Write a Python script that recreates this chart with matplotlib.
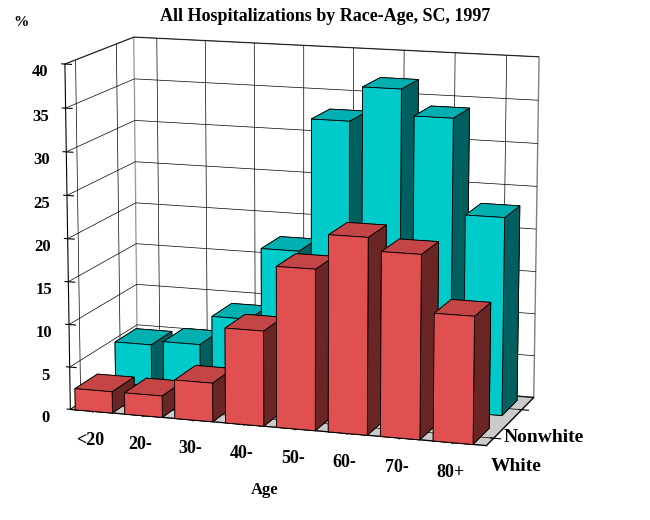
import numpy as np
import matplotlib
matplotlib.use('Agg')
import matplotlib.pyplot as plt
from mpl_toolkits.mplot3d import Axes3D  # noqa

ages = ['<20', '20-', '30-', '40-', '50-', '60-', '70-', '80+']
races = ['White', 'Nonwhite']
white = [2.5, 2.5, 4.5, 11, 18.5, 22.5, 21, 14.5]
nonwhite = [5, 5.5, 9, 17.5, 33, 37, 34, 23]

plt.rcParams['font.family'] = ['Liberation Serif', 'DejaVu Serif']
plt.rcParams['font.weight'] = 'bold'

fig = plt.figure(figsize=(6.5, 5.2), dpi=100)
ax = fig.add_axes([-0.17, -0.03, 1.25, 1.13], projection='3d')
ax.set_box_aspect((1.6, 0.7, 1.3), zoom=0.97)

x = np.arange(len(ages))
dx, dy = 0.75, 0.55
ax.bar3d(x, np.ones(len(x)) * 1, np.zeros(len(x)), dx, dy, nonwhite,
         color='#00e5e5', edgecolor='black', linewidth=0.6, shade=True)
ax.bar3d(x, np.zeros(len(x)), np.zeros(len(x)), dx, dy, white,
         color='#ff5a5a', edgecolor='black', linewidth=0.6, shade=True)

ax.zaxis._axinfo['juggled'] = (1, 2, 0)
ax.set_xticks(x + dx / 2)
ax.set_xticklabels(ages, fontsize=13, fontweight='bold')
ax.set_yticks([0.25, 1.25])
ax.set_yticklabels(races, fontsize=14, fontweight='bold')
ax.set_zlim(0, 40)
ax.set_zticks(range(0, 41, 5))
ax.tick_params(axis='z', labelsize=12)
ax.set_xlim(-0.1, len(ages))
ax.set_ylim(0, 1.7)
ax.set_xlabel('Age', fontsize=12, fontweight='bold', labelpad=14)
ax.view_init(elev=12, azim=-72)
ax.xaxis.pane.set_facecolor('white')
ax.yaxis.pane.set_facecolor('white')
ax.zaxis.pane.set_facecolor('#999999')
for a in (ax.xaxis, ax.yaxis, ax.zaxis):
    a._axinfo['grid']['color'] = 'black'
    a._axinfo['grid']['linewidth'] = 0.5
    a.pane.set_edgecolor('black')
fig.text(0.5, 0.985, 'All Hospitalizations by Race-Age, SC, 1997', ha='center',
         va='top', fontsize=13, fontweight='bold')
fig.text(0.02, 0.95, '%', fontsize=11, fontweight='bold')
fig.savefig('out.png', dpi=100)
